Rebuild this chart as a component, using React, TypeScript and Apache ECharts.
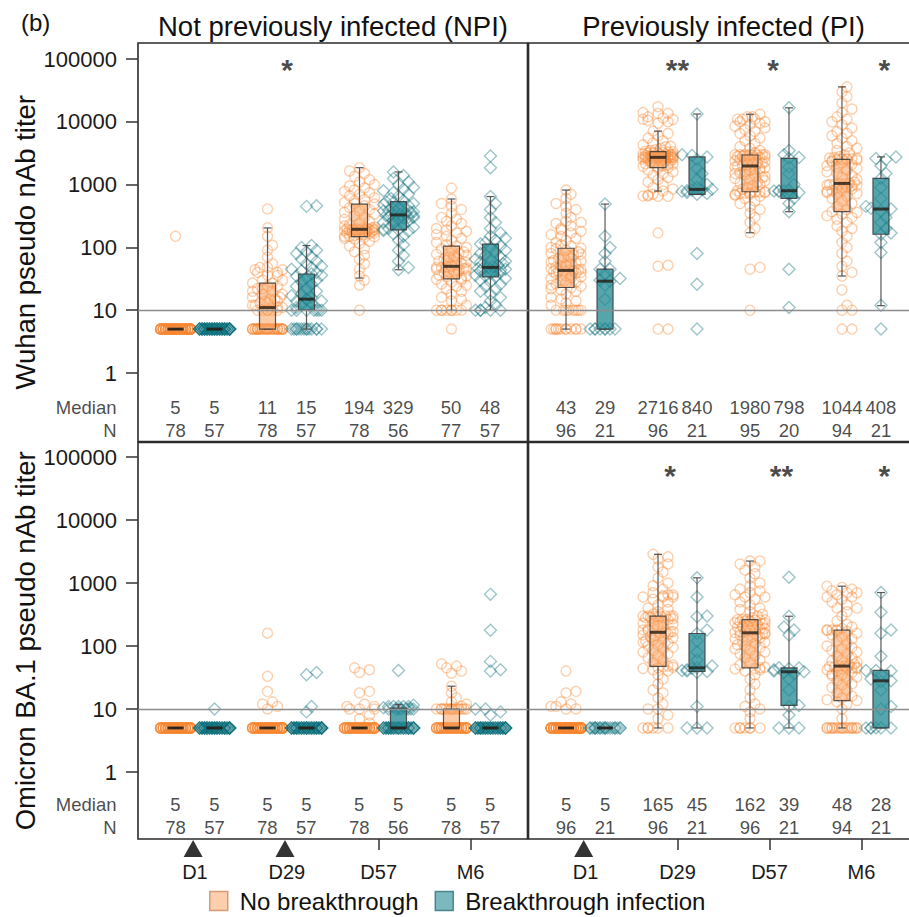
import React, { useEffect, useRef } from 'react';
import * as echarts from 'echarts';

type RL = (number | [number, number])[]; // a value, or [value, count]

const timepoints = ['D1', 'D29', 'D57', 'M6'];
const groupNames = ['No breakthrough', 'Breakthrough infection'];
const yTickLabels = ['1', '10', '100', '1000', '10000', '100000'];
const panelTitles = ['Not previously infected (NPI)', 'Previously infected (PI)'];
const rowTitles = ['Wuhan pseudo nAb titer', 'Omicron BA.1 pseudo nAb titer'];
const rowLabels = ['Median', 'N'];

// ---------- Wuhan, NPI ----------
const wuhanNpiNoPts: RL[] = [
  [[5, 77], 150],
  [[5, 33], [10, 6], [11, 2], [12, 2], [13, 2], [14, 2], [15, 2], [16, 2], [18, 2], [20, 2], [22, 2], [24, 2], [27, 2], [30, 2], [36, 2], [40, 2], [44, 2], [48, 2], 55, 70, 90, 108, 150, 205, 410],
  [10, 25, 30, 35, 45, 55, 65, 75, 85, 95, 105, 115, 125, 135, 140, 145, 148, 150, 150, 155, 160, 160, 165, 170, 170, 175, 175, 180, 180, 180, 185, 185, 188, 190, 190, 190, 192, 193, 194, 194, 196, 198, 200, 205, 210, 220, 230, 245, 260, 280, 300, 320, 340, 360, 380, 400, 430, 460, 490, 500, 520, 550, 580, 620, 660, 700, 740, 780, 820, 880, 950, 1000, 1100, 1200, 1350, 1500, 1650, 1860],
  [5, [10, 8], 12, 14, 15, 16, 18, 20, 22, 24, 25, 26, 28, 30, 31, 32, 34, 35, 36, 38, 40, 41, 42, 43, 44, 45, 46, 47, 48, 48, 49, 50, 52, 55, 58, 60, 62, 65, 68, 70, 72, 75, 78, 80, 85, 90, 95, 100, 105, 110, 120, 130, 140, 150, 160, 170, 180, 190, 200, 220, 240, 260, 280, 300, 350, 400, 450, 500, 590, 880],
];
const wuhanNpiBtPts: RL[] = [
  [[5, 57]],
  [[5, 14], [10, 7], 11, 12, 13, 14, 14, 15, 15, 16, 17, 18, 20, 22, 24, 26, 28, 30, 33, 35, 36, 38, 40, 42, 45, 48, 50, 55, 60, 65, 70, 80, 85, 90, 100, 107, 450, 460],
  [44, 48, 60, 75, 90, 110, 130, 150, 165, 180, 185, 190, 195, 200, 210, 225, 240, 250, 260, 270, 280, 290, 300, 305, 310, 315, 320, 328, 330, 340, 350, 360, 370, 380, 390, 400, 420, 440, 460, 480, 500, 520, 535, 560, 600, 650, 700, 750, 800, 850, 900, 1000, 1100, 1250, 1400, 1590],
  [[10, 5], 11, 12, 14, 16, 18, 20, 22, 24, 26, 28, 30, 32, 34, 35, 36, 38, 40, 42, 43, 44, 45, 46, 47, 48, 50, 52, 55, 58, 60, 62, 65, 70, 75, 80, 85, 90, 100, 105, 113, 120, 130, 140, 150, 170, 200, 250, 300, 400, 500, 645, 1860, 2850],
];
// ---------- Wuhan, PI ----------
const wuhanPiNoPts: RL[] = [
  [[5, 12], [10, 8], 12, 13, 14, 15, 16, 18, 20, 21, 22, 23, 24, 25, 26, 27, 28, 30, 32, 33, 34, 35, 36, 38, 39, 40, 41, 42, 42, 43, 43, 44, 45, 46, 48, 50, 52, 54, 56, 58, 60, 62, 64, 66, 68, 70, 72, 75, 78, 80, 85, 90, 95, 97, 100, 105, 110, 120, 130, 140, 150, 160, 170, 180, 190, 200, 220, 240, 250, 260, 300, 350, 400, 450, 500, 600, 700, 820],
  [5, 5, 50, 52, 170, 650, 650, 660, 660, 680, 700, 790, 850, 900, 1000, 1100, 1200, 1300, 1400, 1500, 1600, 1700, 1800, 1860, 1900, 1950, 2000, 2050, 2100, 2150, 2200, 2250, 2300, 2350, 2400, 2450, 2500, 2520, 2550, 2580, 2600, 2620, 2650, 2670, 2680, 2690, 2700, 2710, 2722, 2730, 2740, 2750, 2760, 2780, 2800, 2820, 2830, 2860, 2880, 2900, 2920, 2950, 2980, 3000, 3050, 3100, 3150, 3150, 3200, 3250, 3300, 3340, 3400, 3500, 3600, 3800, 4000, 4100, 4300, 4600, 5000, 5500, 6000, 6500, 7100, 9500, 10000, 10500, 10900, 11000, 11500, 12000, 13600, 13600, 14000, 17400],
  [10, 45, 48, 171, 200, 250, 300, 350, 400, 450, 500, 550, 600, 650, 680, 700, 700, 720, 730, 740, 750, 760, 770, 770, 800, 850, 900, 950, 1000, 1050, 1100, 1150, 1200, 1250, 1300, 1350, 1400, 1450, 1500, 1550, 1600, 1650, 1700, 1750, 1800, 1850, 1900, 1980, 2000, 2050, 2100, 2150, 2200, 2300, 2400, 2500, 2550, 2600, 2650, 2700, 2750, 2800, 2850, 2900, 2950, 2960, 2980, 3000, 3000, 3000, 3000, 3000, 3200, 3500, 3800, 4000, 4500, 5000, 5500, 6000, 6500, 7000, 7500, 8000, 8500, 9000, 9500, 10000, 10000, 11000, 11000, 11000, 12000, 12000, 13200],
  [5, 5, 10, 10, 12, 21, 35, 40, 50, 60, 80, 100, 120, 150, 180, 200, 220, 250, 280, 300, 320, 340, 360, 370, 400, 450, 500, 550, 600, 650, 700, 720, 750, 780, 800, 820, 850, 880, 900, 920, 950, 970, 980, 1000, 1010, 1020, 1030, 1058, 1100, 1200, 1300, 1400, 1500, 1600, 1700, 1800, 1900, 2000, 2100, 2200, 2300, 2400, 2450, 2500, 2520, 2520, 2550, 2580, 2600, 2650, 2700, 2800, 3000, 3200, 3500, 3800, 4000, 4500, 5000, 5500, 6000, 6500, 7000, 8000, 9000, 10000, 11000, 12000, 14000, 16000, 20000, 25000, 30000, 36000],
];
const wuhanPiBtPts: RL[] = [
  [[5, 8], 15, 25, 29, 30, 32, 38, 45, 45, 60, 80, 100, 150, 490],
  [5, 26, 80, 700, 720, 750, 780, 800, 820, 830, 840, 900, 1000, 1200, 1500, 1800, 2500, 2760, 2900, 3000, 13300],
  [11, 45, 370, 500, 605, 700, 750, 780, 790, 795, 801, 820, 1000, 1500, 1900, 2620, 2700, 3000, 3500, 16700],
  [5, 12, 83, 120, 162, 170, 200, 250, 300, 380, 408, 420, 450, 600, 900, 1260, 1500, 2000, 2500, 2600, 2760],
];
// ---------- Omicron BA.1, NPI ----------
const ba1NpiNoPts: RL[] = [
  [[5, 78]],
  [[5, 71], 10, 11, 12, 13, 19, 33, 160],
  [[5, 64], 6, 7, 8, 10, 10, 10, 11, 11, 12, 18, 19, 38, 42, 45],
  [[5, 53], [10, 14], 11, 12, 13, 15, 18, 23, 37, 40, 45, 48, 52],
];
const ba1NpiBtPts: RL[] = [
  [[5, 56], 10],
  [[5, 53], 9, 11, 35, 38],
  [[5, 40], [10, 8], 10.5, [11, 5], 11.5, 41],
  [[5, 48], 8, 9, 10, 10, 40, 42, 57, 178, 660],
];
// ---------- Omicron BA.1, PI ----------
const ba1PiNoPts: RL[] = [
  [[5, 87], 10, 10, 11, 11, 12, 13, 18, 19, 40],
  [[5, 6], 7, 8, 10, 10, 12, 15, 18, 20, 25, 30, 35, 40, 42, 44, 45, 46, 47, 48, 50, 55, 60, 65, 70, 75, 80, 85, 90, 95, 100, 105, 110, 115, 120, 125, 130, 135, 140, 145, 150, 155, 160, 162, 168, 170, 175, 180, 185, 190, 200, 210, 220, 230, 240, 250, 260, 270, 280, 285, 290, 295, 297, 300, 300, 300, 300, 300, 320, 350, 380, 400, 450, 500, 550, 600, 600, 600, 630, 650, 650, 700, 800, 900, 1000, 1200, 1500, 1800, 2000, 2400, 2600, 2850],
  [[5, 7], 7, 9, 10, 11, 12, 15, 20, 25, 30, 35, 40, 42, 43, 44, 45, 46, 50, 55, 60, 65, 70, 75, 80, 85, 90, 95, 100, 105, 110, 115, 120, 125, 130, 135, 140, 145, 150, 155, 158, 160, 164, 168, 172, 176, 180, 185, 190, 200, 205, 210, 215, 220, 225, 230, 235, 240, 245, 250, 255, 258, 260, 262, 263, 265, 280, 300, 320, 350, 380, 400, 450, 500, 550, 600, 600, 650, 700, 750, 800, 900, 1000, 1200, 1400, 1600, 1800, 2000, 2230, 2230],
  [[5, 18], 7, 10, 12, 13, 13.6, 14, 15, 16, 18, 20, 22, 24, 25, 28, 30, 32, 34, 35, 36, 38, 40, 42, 43, 44, 45, 45, 46, 47, 47, 48, 48, 50, 52, 55, 58, 60, 65, 70, 75, 80, 85, 90, 95, 100, 110, 120, 130, 140, 150, 160, 170, 175, 178, 180, 180, 180, 190, 200, 220, 250, 300, 350, 400, 400, 450, 500, 550, 600, 600, 650, 700, 700, 750, 800, 850, 890],
];
const ba1PiBtPts: RL[] = [
  [[5, 21]],
  [5, 5, 5, 11, 38, 39.5, 40, 41, 42, 44, 45, 48, 60, 80, 120, 158, 180, 290, 300, 600, 1210],
  [5, 5, 5, 8, 11, 11.4, 20, 30, 36, 38, 39, 40, 42, 44, 44.8, 45, 150, 180, 200, 297, 1230],
  [[5, 6], 10, 11, 20, 27, 28, 30, 35, 40, 41, 41, 69, 160, 180, 344, 706],
];

// Box stats: [lower whisker, Q1, median, Q3, upper whisker]
const wuhanNpiNoBox = [[5, 5, 5, 5, 5], [5, 5, 11, 27, 204], [32.5, 148, 194, 490, 1860], [10, 31.5, 50, 105, 590]];
const wuhanNpiBtBox = [[5, 5, 5, 5, 5], [5, 10, 15, 37.7, 107], [44, 190, 329, 535, 1590], [10, 34, 48, 113, 645]];
const wuhanPiNoBox = [[5, 23, 43, 97, 820], [790, 1860, 2716, 3340, 7100], [171, 770, 1980, 2960, 13200], [35, 370, 1044, 2520, 36000]];
const wuhanPiBtBox = [[5, 5, 29, 45, 490], [700, 700, 840, 2760, 13300], [370, 605, 798, 2620, 16700], [11.8, 162, 408, 1260, 2760]];
const ba1NpiNoBox = [[5, 5, 5, 5, 5], [5, 5, 5, 5, 5], [5, 5, 5, 5, 5], [5, 5, 5, 10, 23]];
const ba1NpiBtBox = [[5, 5, 5, 5, 5], [5, 5, 5, 5, 5], [5, 5, 5, 10.3, 11.7], [5, 5, 5, 5, 5]];
const ba1PiNoBox = [[5, 5, 5, 5, 5], [5, 47.5, 165, 297, 2850], [5, 44.8, 162, 263, 2230], [5, 13.6, 48, 178, 890]];
const ba1PiBtBox = [[5, 5, 5, 5, 5], [5, 39.5, 45, 158, 1210], [5, 11.4, 39, 44.8, 297], [5, 5, 28, 41, 706]];

// Median and N per timepoint: [no breakthrough, breakthrough]
const wuhanNpiMedian = [[5, 5], [11, 15], [194, 329], [50, 48]];
const wuhanNpiN = [[78, 57], [78, 57], [78, 56], [77, 57]];
const wuhanPiMedian = [[43, 29], [2716, 840], [1980, 798], [1044, 408]];
const wuhanPiN = [[96, 21], [96, 21], [95, 20], [94, 21]];
const ba1NpiMedian = [[5, 5], [5, 5], [5, 5], [5, 5]];
const ba1NpiN = [[78, 57], [78, 57], [78, 56], [78, 57]];
const ba1PiMedian = [[5, 5], [165, 45], [162, 39], [48, 28]];
const ba1PiN = [[96, 21], [96, 21], [96, 21], [94, 21]];

// Significance marks (x position on the timepoint scale, 1..4)
const wuhanNpiSig = [{ at: 2, mark: '*' }];
const wuhanPiSig = [{ at: 2, mark: '**' }, { at: 3.04, mark: '*' }, { at: 4.25, mark: '*' }];
const ba1NpiSig: { at: number; mark: string }[] = [];
const ba1PiSig = [{ at: 1.92, mark: '*' }, { at: 3.13, mark: '**' }, { at: 4.25, mark: '*' }];

// Vaccination doses (triangles) and plain ticks
const npiDoses = [1, 2];
const piDoses = [1];
const npiTicks = [3, 4];
const piTicks = [2, 3, 4];

// ---------- layout / style ----------
const X_MIN = 0.38;
const X_MAX = 4.62;
const OFFSET = 0.212;
const FONT = '"Liberation Sans", Arial, Helvetica, sans-serif';
const frameLeft = [138, 528.5];
const frameWidth = [389.5, 390];
const frameTop = [43, 442.5];
const frameHeight = [398.5, 396.5];
const dataTop = [59, 457];
const dataHeight = [314, 315];
const DATA_W = 390;
const PX_PER_UNIT = DATA_W / (X_MAX - X_MIN);
const PX_PER_DECADE = 62.8;
const MEDIAN_Y = 0.086;
const N_Y = 0.028;

const ORANGE_PT = 'rgba(247,135,50,0.5)';
const TEAL_PT = 'rgba(10,110,122,0.5)';
const ORANGE_BOX = 'rgba(250,160,95,0.55)';
const TEAL_BOX = 'rgba(30,135,145,0.75)';

const expand = (rl: RL): number[] =>
  rl.flatMap((e) => (Array.isArray(e) ? Array(e[1]).fill(e[0]) : [e]));

function swarm(vals: number[], cx: number): number[][] {
  const sorted = [...vals].sort((a, b) => a - b);
  const placed: number[][] = [];
  const step = 5;
  const maxK = 3;
  const minD = 6.2;
  let overflow = 0;
  return sorted.map((v) => {
    const y = Math.log10(v) * PX_PER_DECADE;
    let off: number | null = null;
    for (let k = 0; k <= 2 * maxK; k++) {
      const o = k === 0 ? 0 : (k % 2 === 1 ? 1 : -1) * Math.ceil(k / 2) * step;
      if (placed.every(([px, py]) => (px - o) ** 2 + (py - y) ** 2 >= minD * minD)) {
        off = o;
        break;
      }
    }
    if (off === null) {
      const slots = 2 * maxK + 1;
      const idx = overflow % slots;
      const round = Math.floor(overflow / slots);
      off = -maxK * step + idx * step + (round % 2 === 1 ? step / 2 : 0);
      if (off > maxK * step) off = maxK * step;
      overflow++;
    }
    placed.push([off, y]);
    return [cx + off / PX_PER_UNIT, v];
  });
}

const panels = [
  { row: 0, col: 0, no: wuhanNpiNoPts, bt: wuhanNpiBtPts, noBox: wuhanNpiNoBox, btBox: wuhanNpiBtBox, median: wuhanNpiMedian, n: wuhanNpiN, sig: wuhanNpiSig, doses: npiDoses, ticks: npiTicks },
  { row: 0, col: 1, no: wuhanPiNoPts, bt: wuhanPiBtPts, noBox: wuhanPiNoBox, btBox: wuhanPiBtBox, median: wuhanPiMedian, n: wuhanPiN, sig: wuhanPiSig, doses: piDoses, ticks: piTicks },
  { row: 1, col: 0, no: ba1NpiNoPts, bt: ba1NpiBtPts, noBox: ba1NpiNoBox, btBox: ba1NpiBtBox, median: ba1NpiMedian, n: ba1NpiN, sig: ba1NpiSig, doses: npiDoses, ticks: npiTicks },
  { row: 1, col: 1, no: ba1PiNoPts, bt: ba1PiBtPts, noBox: ba1PiNoBox, btBox: ba1PiBtBox, median: ba1PiMedian, n: ba1PiN, sig: ba1PiSig, doses: piDoses, ticks: piTicks },
];

function boxRenderer(fill: string) {
  return (params: any, api: any) => {
    const x = api.value(0);
    const c = (v: number) => api.coord([x, v]);
    const [cx, yLo] = c(api.value(1));
    const yQ1 = c(api.value(2))[1];
    const yMed = c(api.value(3))[1];
    const yQ3 = c(api.value(4))[1];
    const yHi = c(api.value(5))[1];
    const hw = 8;
    const cw = 4;
    const ws = { stroke: 'rgba(70,70,70,0.9)', lineWidth: 1.2 };
    return {
      type: 'group',
      children: [
        { type: 'line', shape: { x1: cx, y1: yLo, x2: cx, y2: yQ1 }, style: ws },
        { type: 'line', shape: { x1: cx, y1: yQ3, x2: cx, y2: yHi }, style: ws },
        { type: 'line', shape: { x1: cx - cw, y1: yLo, x2: cx + cw, y2: yLo }, style: ws },
        { type: 'line', shape: { x1: cx - cw, y1: yHi, x2: cx + cw, y2: yHi }, style: ws },
        { type: 'rect', shape: { x: cx - hw, y: yQ3, width: 2 * hw, height: yQ1 - yQ3 }, style: { fill, stroke: 'rgba(55,55,55,0.85)', lineWidth: 1.2 } },
        { type: 'line', shape: { x1: cx - hw, y1: yMed, x2: cx + hw, y2: yMed }, style: { stroke: 'rgba(35,28,20,0.8)', lineWidth: 3 } },
      ],
    };
  };
}

function buildOption() {
  const grid: any[] = [];
  const xAxis: any[] = [];
  const yAxis: any[] = [];
  const series: any[] = [];

  panels.forEach((p, k) => {
    grid[k] = {
      left: frameLeft[p.col], top: frameTop[p.row], width: frameWidth[p.col], height: frameHeight[p.row],
      show: true, borderColor: '#2b2b2b', borderWidth: 1.6, backgroundColor: 'transparent',
      containLabel: false, outerBoundsMode: 'none',
    };
    grid[4 + k] = {
      left: frameLeft[p.col], top: dataTop[p.row], width: DATA_W, height: dataHeight[p.row],
      containLabel: false, outerBoundsMode: 'none',
    };
    xAxis[k] = p.row === 1
      ? {
          gridIndex: k, type: 'value', min: X_MIN, max: X_MAX,
          axisLine: { show: false }, splitLine: { show: false },
          axisTick: { show: true, length: 11, lineStyle: { color: '#333', width: 1.5 }, customValues: p.ticks },
          axisLabel: {
            show: true, customValues: [1, 2, 3, 4], margin: 23, fontSize: 20, fontFamily: FONT, color: '#1a1a1a',
            formatter: (v: number) => timepoints[Math.round(v) - 1] ?? '',
          },
        }
      : { gridIndex: k, type: 'value', min: X_MIN, max: X_MAX, show: false };
    yAxis[k] = { gridIndex: k, type: 'value', min: 0, max: 1, show: false };
    xAxis[4 + k] = { gridIndex: 4 + k, type: 'value', min: X_MIN, max: X_MAX, show: false };
    yAxis[4 + k] = p.col === 0
      ? {
          gridIndex: 4 + k, type: 'log', logBase: 10, min: 1, max: 100000,
          axisLine: { show: false }, splitLine: { show: false },
          axisTick: { show: true, length: 12, lineStyle: { color: '#333', width: 1.5 } },
          axisLabel: {
            margin: 21, fontSize: 22, fontFamily: FONT, color: '#1a1a1a',
            formatter: (v: number) => yTickLabels[Math.round(Math.log10(v))] ?? '',
          },
        }
      : { gridIndex: 4 + k, type: 'log', logBase: 10, min: 1, max: 100000, show: false };

    const noData = p.no.flatMap((rl, i) => swarm(expand(rl), i + 1 - OFFSET));
    const btData = p.bt.flatMap((rl, i) => swarm(expand(rl), i + 1 + OFFSET));

    series.push({
      type: 'scatter', name: groupNames[0], xAxisIndex: 4 + k, yAxisIndex: 4 + k,
      data: noData, symbol: 'circle', symbolSize: 10, silent: true, clip: false, z: 2,
      itemStyle: { color: 'rgba(0,0,0,0)', borderColor: ORANGE_PT, borderWidth: 1.4 },
      markLine: {
        silent: true, symbol: 'none', label: { show: false },
        lineStyle: { color: '#8c8c8c', width: 1.4, type: 'solid' },
        data: [{ yAxis: 10 }],
      },
    });
    series.push({
      type: 'scatter', name: groupNames[1], xAxisIndex: 4 + k, yAxisIndex: 4 + k,
      data: btData, symbol: 'diamond', symbolSize: 12, silent: true, clip: false, z: 2,
      itemStyle: { color: 'rgba(0,0,0,0)', borderColor: TEAL_PT, borderWidth: 1.4 },
    });
    series.push({
      type: 'custom', name: groupNames[0], xAxisIndex: 4 + k, yAxisIndex: 4 + k, silent: true, z: 3,
      renderItem: boxRenderer(ORANGE_BOX),
      encode: { x: 0, y: [1, 2, 3, 4, 5] },
      data: p.noBox.map((b, i) => [i + 1 - OFFSET, ...b]),
    });
    series.push({
      type: 'custom', name: groupNames[1], xAxisIndex: 4 + k, yAxisIndex: 4 + k, silent: true, z: 3,
      renderItem: boxRenderer(TEAL_BOX),
      encode: { x: 0, y: [1, 2, 3, 4, 5] },
      data: p.btBox.map((b, i) => [i + 1 + OFFSET, ...b]),
    });

    // Median / N texts
    const textData: any[] = [];
    p.median.forEach((pair, i) => {
      pair.forEach((m, j) => {
        textData.push([i + 1 + (j === 0 ? -OFFSET : OFFSET), MEDIAN_Y, m]);
      });
    });
    p.n.forEach((pair, i) => {
      pair.forEach((m, j) => {
        textData.push([i + 1 + (j === 0 ? -OFFSET : OFFSET), N_Y, m]);
      });
    });
    series.push({
      type: 'scatter', xAxisIndex: k, yAxisIndex: k, silent: true, z: 5,
      symbolSize: 1, itemStyle: { color: 'rgba(0,0,0,0)' },
      data: textData,
      label: {
        show: true, position: 'inside', fontSize: 18.5, fontFamily: FONT, color: '#1a1a1a',
        formatter: (q: any) => String(q.value[2]),
      },
    });
    if (p.col === 0) {
      series.push({
        type: 'scatter', xAxisIndex: k, yAxisIndex: k, silent: true, z: 5, clip: false,
        symbolSize: 1, itemStyle: { color: 'rgba(0,0,0,0)' },
        data: [
          { value: [X_MIN, MEDIAN_Y], label: { formatter: rowLabels[0] } },
          { value: [X_MIN, N_Y], label: { formatter: rowLabels[1] } },
        ],
        label: { show: true, position: 'left', distance: 21, fontSize: 18.5, fontFamily: FONT, color: '#1a1a1a' },
      });
    }
    // significance marks
    if (p.sig.length) {
      series.push({
        type: 'scatter', xAxisIndex: 4 + k, yAxisIndex: 4 + k, silent: true, z: 5, clip: false,
        symbolSize: 1, itemStyle: { color: 'rgba(0,0,0,0)' },
        data: p.sig.map((s) => ({ value: [s.at, p.row === 0 ? 68000 : 50700], label: { formatter: s.mark } })),
        label: { show: true, position: 'inside', fontSize: 30, fontWeight: 'bold', fontFamily: FONT, color: '#1a1a1a' },
      });
    }
    // dose triangles below bottom frames
    if (p.row === 1) {
      series.push({
        type: 'scatter', xAxisIndex: k, yAxisIndex: k, silent: true, z: 5, clip: false,
        symbol: 'triangle', symbolSize: [19, 17], itemStyle: { color: '#000' },
        data: p.doses.map((d) => [d - 0.02, -0.024]),
      });
    }
  });

  const graphic: any[] = [
    { type: 'text', x: 21, y: 22, style: { text: '(b)', font: `24px ${FONT}`, fill: '#111', align: 'left', verticalAlign: 'middle', textAlign: 'left', textVerticalAlign: 'middle' } },
    ...panelTitles.map((t, c) => ({
      type: 'text', x: frameLeft[c] + 195, y: 26,
      style: { text: t, font: `27.5px ${FONT}`, fill: '#111', align: 'center', verticalAlign: 'middle', textAlign: 'center', textVerticalAlign: 'middle' },
    })),
    ...rowTitles.map((t, r) => ({
      type: 'text', x: 25, y: frameTop[r] + frameHeight[r] / 2, rotation: Math.PI / 2,
      style: { text: t, font: `27.5px ${FONT}`, fill: '#111', align: 'center', verticalAlign: 'middle', textAlign: 'center', textVerticalAlign: 'middle' },
    })),
  ];

  return {
    animation: false,
    backgroundColor: '#fff',
    grid, xAxis, yAxis, series, graphic,
    legend: {
      selectedMode: false,
      left: 204, top: 884,
      icon: 'rect', itemWidth: 18, itemHeight: 19, itemGap: 16,
      textStyle: { fontSize: 24, fontFamily: FONT, color: '#111', padding: [0, 0, 0, 7] },
      data: [
        { name: groupNames[0], itemStyle: { color: '#fcc39b', borderColor: '#c98a5a', borderWidth: 1.5 } },
        { name: groupNames[1], itemStyle: { color: '#5aa8ae', borderColor: '#2f7178', borderWidth: 1.5 } },
      ],
    },
  };
}

export default function App() {
  const ref = useRef<HTMLDivElement>(null);
  useEffect(() => {
    if (!ref.current) return;
    const chart = echarts.init(ref.current, undefined, { renderer: 'svg' });
    chart.setOption(buildOption() as any);
    return () => chart.dispose();
  }, []);
  return (
    <div
      ref={ref}
      style={{ position: 'absolute', left: 0, top: 0, width: 909, height: 917, background: '#fff' }}
    />
  );
}
